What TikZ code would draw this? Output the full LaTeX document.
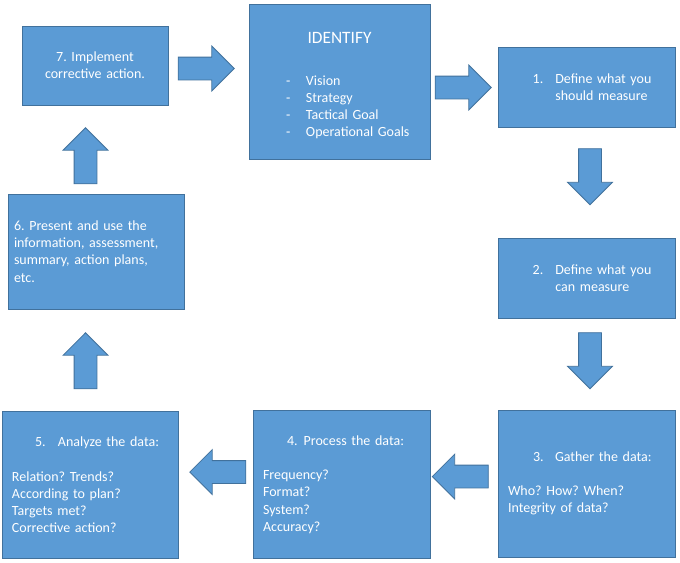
\documentclass[tikz,border=0pt]{standalone}
\usepackage{fontspec}
\setmainfont{Carlito}
\frenchspacing
\usetikzlibrary{shapes.arrows}
\definecolor{stepfill}{HTML}{5B9BD5}
\definecolor{stepline}{HTML}{41719C}

\begin{document}
\begin{tikzpicture}[
  x=0.75pt, y=-0.75pt,
  stepbox/.style={rectangle, draw=stepline, fill=stepfill, line width=0.6pt,
                  text=white, inner xsep=7.5pt, inner ysep=0pt, align=left,
                  font=\fontsize{10.5}{12.9}\selectfont},
  flow/.style={single arrow, draw=stepline, fill=stepfill, line width=0.6pt,
               inner xsep=0pt, inner ysep=8.25pt, minimum height=42pt,
               single arrow head extend=8.25pt},
]
\useasboundingbox[fill=white] (0,0) rectangle (680,562);

\node[stepbox, align=center, text width=94.5pt, minimum height=59.25pt] (b7) at (95,65.5) {
  7. Implement\\ corrective action.};
\node[stepbox, text width=120.75pt, minimum height=116.25pt] (idf) at (339.5,81.5) {
  \rule{0pt}{15pt}\makebox[120.75pt]{\fontsize{13}{15}\selectfont IDENTIFY}\\[18pt]
  \hspace*{20.25pt}\makebox[15pt][l]{-}Vision\\
  \hspace*{20.25pt}\makebox[15pt][l]{-}Strategy\\
  \hspace*{20.25pt}\makebox[15pt][l]{-}Tactical Goal\\
  \hspace*{20.25pt}\makebox[15pt][l]{-}Operational Goals};
\node[stepbox, text width=117.75pt, minimum height=60pt] (b1) at (586.5,87) {
  \hspace*{18.5pt}\makebox[17pt][l]{1.}Define what you\\
  \hspace*{35.5pt}should measure};
\node[stepbox, text width=117.75pt, minimum height=60pt] (b2) at (586.5,278) {
  \hspace*{18.5pt}\makebox[17pt][l]{2.}Define what you\\
  \hspace*{35.5pt}can measure};
\node[stepbox, text width=117.75pt, minimum height=110.25pt] (b3) at (586.5,483.5) {
  \hspace*{18.75pt}\makebox[16.5pt][l]{3.}Gather the data:\\[12.9pt]
  Who? How? When?\\
  Integrity of data?};
\node[stepbox, text width=117.75pt, minimum height=111pt] (b4) at (341.5,484.5) {
  \hspace*{18pt}\makebox[12.5pt][l]{4.}Process the data:\\[12.9pt]
  Frequency?\\
  Format?\\
  System?\\
  Accuracy?};
\node[stepbox, text width=117pt, minimum height=110.25pt] (b5) at (90,485) {
  \hspace*{17.25pt}\makebox[17.25pt][l]{5.}Analyze the data:\\[12.9pt]
  Relation? Trends?\\
  According to plan?\\
  Targets met?\\
  Corrective action?};
\node[stepbox, inner xsep=4.5pt, text width=123pt, minimum height=86.25pt] (b6) at (96,251.5) {
  6. Present and use the\\
  information, assessment,\\
  summary, action plans,\\
  etc.};

\node[flow] (a0) at (200.5,68.5) {};
\node[flow] (a1) at (457.5,87.5) {};
\node[flow, rotate=-90] (a2) at (590,171) {};
\node[flow, rotate=-90] (a3) at (590,355) {};
\node[flow, rotate=180] (a4) at (466,476.5) {};
\node[flow, rotate=180] (a5) at (223.5,472) {};
\node[flow, rotate=90] (a6) at (85.5,366.5) {};
\node[flow, rotate=90] (a7) at (85.5,161.5) {};

\end{tikzpicture}
\end{document}
